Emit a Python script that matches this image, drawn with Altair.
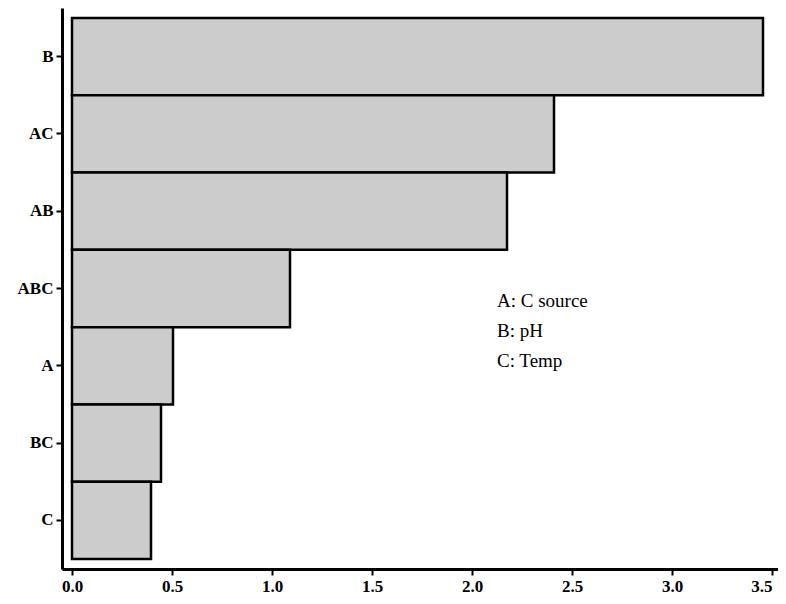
import altair as alt
import pandas as pd

factors = ["B", "AC", "AB", "ABC", "A", "BC", "C"]
effects = [3.455, 2.41, 2.175, 1.09, 0.505, 0.445, 0.395]
legend_lines = ["A: C source", "B: pH", "C: Temp"]
x_ticks = [0.0, 0.5, 1.0, 1.5, 2.0, 2.5, 3.0, 3.5]

df = pd.DataFrame({"factor": factors, "effect": effects})

FONT = "Liberation Serif"

bars = alt.Chart(df).mark_bar(
    fill="#cccccc", stroke="black", strokeWidth=2.5
).encode(
    y=alt.Y("factor:N", sort=factors,
            scale=alt.Scale(paddingInner=0, paddingOuter=0.13),
            axis=alt.Axis(title=None, domainColor="black", domainWidth=3,
                          tickColor="black", tickWidth=2, tickSize=6,
                          labelFont=FONT, labelFontWeight="bold", labelFontSize=17,
                          labelColor="black", labelPadding=3, grid=False)),
    x=alt.X("effect:Q",
            scale=alt.Scale(domain=[-0.05, 3.53], nice=False, zero=False),
            axis=alt.Axis(title=None, values=x_ticks, format=".1f",
                          domainColor="black", domainWidth=3,
                          tickColor="black", tickWidth=2, tickSize=6,
                          labelFont=FONT, labelFontWeight="bold", labelFontSize=17,
                          labelAlign={"condition": {"test": "datum.value >= 3.5", "value": "right"},
                                      "value": "center"},
                          labelColor="black", labelPadding=3, grid=False)),
)

legend_text = alt.Chart(pd.DataFrame({"t": [legend_lines]})).mark_text(
    align="left", baseline="middle", font=FONT, fontSize=19, lineHeight=30,
    color="black"
).encode(
    x=alt.value(435), y=alt.value(293), text="t"
)

chart = alt.layer(bars, legend_text).properties(
    width=716, height=561,
    autosize=alt.AutoSizeParams(type="none"),
    padding={"left": 54, "top": 0, "right": 0, "bottom": 27},
).configure_view(stroke=None)

chart.save("out.html", embed_options={"renderer": "svg", "actions": False})
